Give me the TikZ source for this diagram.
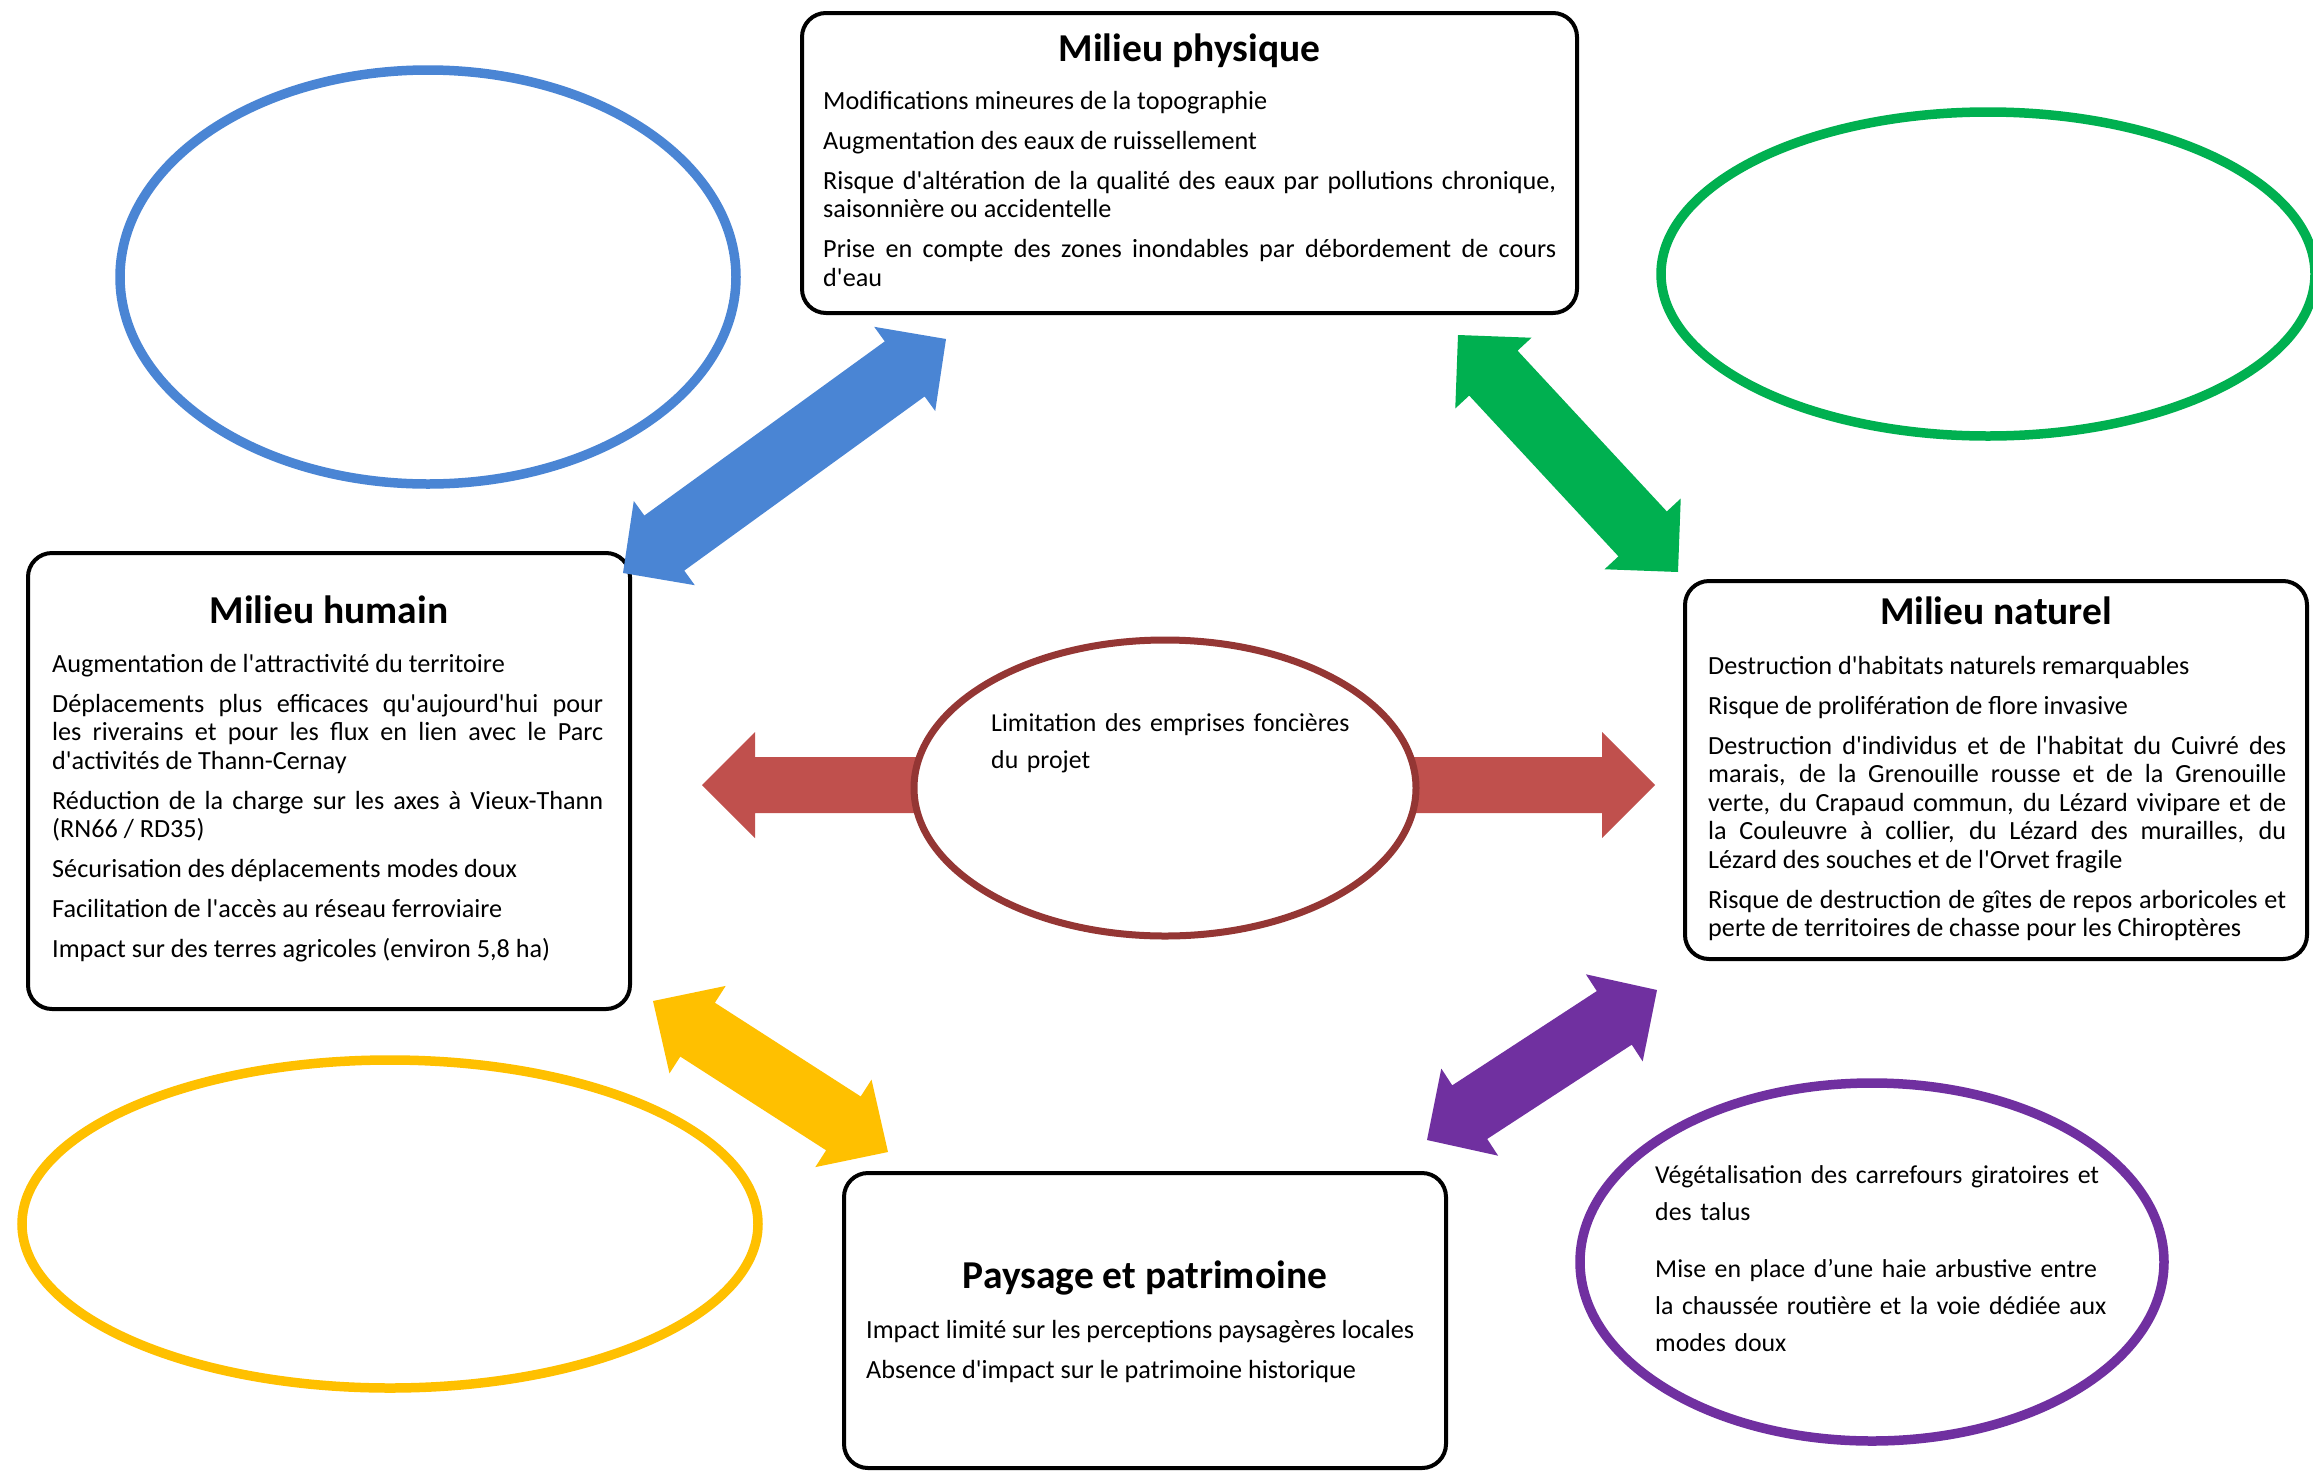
\documentclass[tikz,border=0pt]{standalone}
\usepackage{fontspec}
\setmainfont{Carlito}[Ligatures=TeXOff]
\usetikzlibrary{calc,shapes.geometric}

% Colours of the five themes
\definecolor{cblue}{HTML}{4A85D4}
\definecolor{cgreen}{HTML}{00B050}
\definecolor{cyellow}{HTML}{FFC000}
\definecolor{cpurple}{HTML}{7030A0}
\definecolor{credarrow}{HTML}{C0504D}
\definecolor{credring}{HTML}{943634}

% Block double arrow between two points:
% #1 colour, #2 one tip, #3 other tip, #4 half shaft width, #5 half head width, #6 head length
\newcommand{\twowayarrow}[6]{%
  \fill[#1] (#2)
    -- ($(#2)!#6pt!(#3)!#5pt!90:(#3)$)
    -- ($(#2)!#6pt!(#3)!#4pt!90:(#3)$)
    -- ($(#3)!#6pt!(#2)!#4pt!-90:(#2)$)
    -- ($(#3)!#6pt!(#2)!#5pt!-90:(#2)$)
    -- (#3)
    -- ($(#3)!#6pt!(#2)!#5pt!90:(#2)$)
    -- ($(#3)!#6pt!(#2)!#4pt!90:(#2)$)
    -- ($(#2)!#6pt!(#3)!#4pt!-90:(#3)$)
    -- ($(#2)!#6pt!(#3)!#5pt!-90:(#3)$)
    -- cycle;}

\begin{document}
\begin{tikzpicture}[x=1pt,y=-1pt,
  panel/.style={draw=black, line width=4pt, rounded corners=24pt, fill=white,
    inner sep=0pt, rectangle},
  ring/.style={ellipse, draw=#1, line width=9.5pt, inner sep=0pt},
  ttl/.style={font=\fontsize{39.5}{44}\selectfont\bfseries, inner sep=0pt, anchor=base},
  body/.style={font=\fontsize{26.2}{28.5}\selectfont, inner sep=0pt, anchor=base west,
    align=justify,
    execute at begin node={\setlength{\parskip}{11.5pt}\setlength{\parindent}{0pt}%
      \hyphenpenalty=10000 \exhyphenpenalty=10000 \tolerance=9999}},
  note/.style={font=\fontsize{25.8}{37}\selectfont, inner sep=0pt, anchor=base west,
    align=left}]

\useasboundingbox (0,0) rectangle (2313,1470);
\clip (0,0) rectangle (2313,1470);
\fill[white] (0,0) rectangle (2313,1470);

% Empty coloured rings
\node[ring=cblue, minimum width=616pt, minimum height=414pt] (ring-blue) at (428,277) {};
\node[ring=cgreen, minimum width=654pt, minimum height=324pt] (ring-green) at (1988,274) {};
\node[ring=cyellow, minimum width=736pt, minimum height=328pt] (ring-yellow) at (390,1224) {};
\node[ring=cpurple, minimum width=584pt, minimum height=358pt] (ring-purple) at (1872,1262) {};

% Central horizontal arrow, under the central ring
\coordinate (re-a) at (702,785);
\coordinate (re-b) at (1655,785);
\twowayarrow{credarrow}{re-a}{re-b}{28}{53}{53}
\node[ellipse, draw=credring, line width=7pt, fill=white, inner sep=0pt,
  minimum width=502pt, minimum height=296pt] (ring-red) at (1165,788) {};

% Theme panels
\node[panel, minimum width=775pt, minimum height=300pt] (phys) at (1189.5,163) {};
\node[panel, minimum width=602pt, minimum height=456pt] (hum) at (329,781) {};
\node[panel, minimum width=622pt, minimum height=378pt] (nat) at (1996,770) {};
\node[panel, minimum width=602pt, minimum height=295pt] (pays) at (1145,1320.5) {};

% Panel titles
\node[ttl] (phys-t) at (1189.5,61) {Milieu physique};
\node[ttl] (hum-t) at (329,623) {Milieu humain};
\node[ttl] (nat-t) at (1996,624) {Milieu naturel};
\node[ttl] (pays-t) at (1145,1288) {Paysage et patrimoine};

% Panel texts
\node[body, text width=733pt] (phys-b) at (823,109) {%
Modifications mineures de la topographie\par
Augmentation des eaux de ruissellement\par
Risque d'altération de la qualité des eaux par pollutions chronique,\linebreak saisonnière ou accidentelle\par
Prise en compte des zones inondables par débordement de cours\linebreak d'eau};

\node[body, text width=551pt] (hum-b) at (52,672) {%
Augmentation de l'attractivité du territoire\par
Déplacements plus efficaces qu'aujourd'hui pour\linebreak les riverains et pour les flux en lien avec le Parc\linebreak d'activités de Thann-Cernay\par
Réduction de la charge sur les axes à Vieux-Thann\linebreak (RN66 / RD35)\par
Sécurisation des déplacements modes doux\par
Facilitation de l'accès au réseau ferroviaire\par
Impact sur des terres agricoles (environ 5,8 ha)};

\node[body, text width=578pt] (nat-b) at (1708,674) {%
Destruction d'habitats naturels remarquables\par
Risque de prolifération de flore invasive\par
Destruction d'individus et de l'habitat du Cuivré des\linebreak marais, de la Grenouille rousse et de la Grenouille\linebreak verte, du Crapaud commun, du Lézard vivipare et de\linebreak la Couleuvre à collier, du Lézard des murailles, du\linebreak Lézard des souches et de l'Orvet fragile\par
Risque de destruction de gîtes de repos arboricoles et\linebreak perte de territoires de chasse pour les Chiroptères};

\node[body, text width=570pt] (pays-b) at (866,1338) {%
Impact limité sur les perceptions paysagères locales\par
Absence d'impact sur le patrimoine historique};

% Texts inside the rings
\node[note, text width=380pt] (ring-red-t) at (991,731) {%
Limitation des emprises foncières\\du projet};
\node[note, text width=470pt] (ring-purple-t) at (1655,1183) {%
Végétalisation des carrefours giratoires et\\des talus\\[20pt]
Mise en place d’une haie arbustive entre\\la chaussée routière et la voie dédiée aux\\modes doux};

% Diagonal arrows between the panels
\coordinate (bl-a) at (946,339);
\coordinate (bl-b) at (623,573);
\twowayarrow{cblue}{bl-a}{bl-b}{34}{52}{51}
\coordinate (gr-a) at (1458,335);
\coordinate (gr-b) at (1678,572);
\twowayarrow{cgreen}{gr-a}{gr-b}{33}{52}{52}
\coordinate (ye-a) at (653,1001);
\coordinate (ye-b) at (888,1152);
\twowayarrow{cyellow}{ye-a}{ye-b}{32}{52}{53}
\coordinate (pu-a) at (1657,990);
\coordinate (pu-b) at (1427,1140);
\twowayarrow{cpurple}{pu-a}{pu-b}{32}{52}{51}

\end{tikzpicture}
\end{document}
